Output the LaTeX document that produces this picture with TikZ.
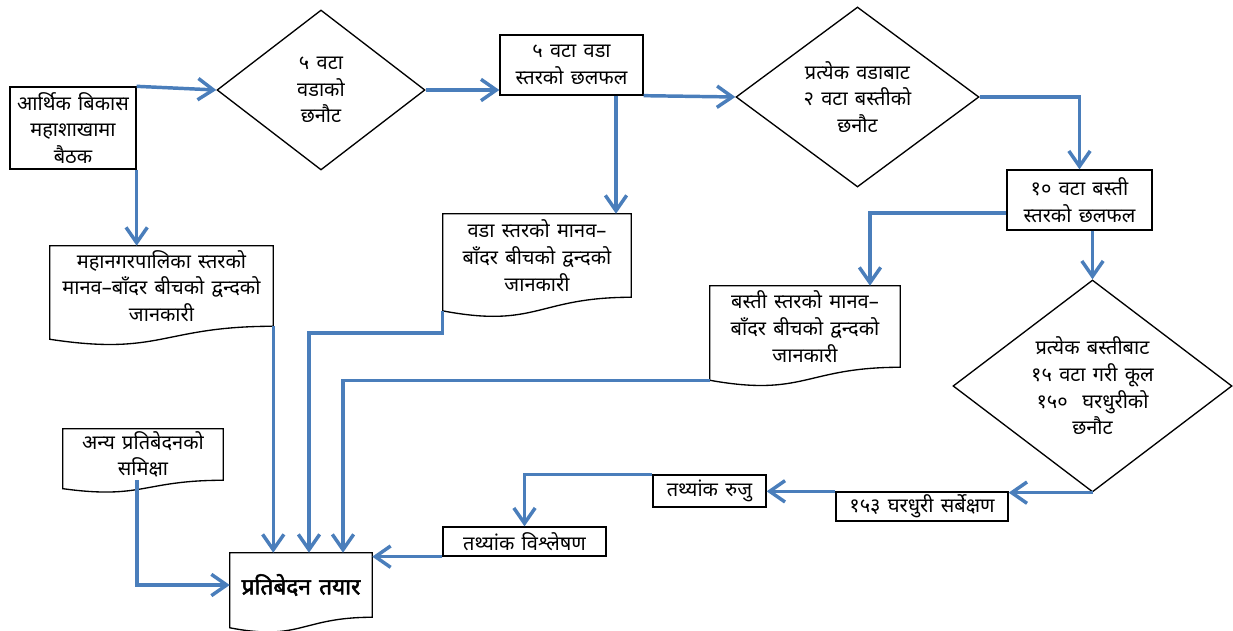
\documentclass[tikz,border=0pt]{standalone}
\usepackage{fontspec}
\setmainfont[Script=Devanagari, WordSpace=1.4]{Noto Sans}
\newfontfamily\devbold[Script=Devanagari, WordSpace=1.4, FakeBold=2.2]{Noto Sans}
\usetikzlibrary{shapes.geometric,arrows.meta,calc}
\definecolor{flowblue}{RGB}{74,126,187}
\tikzset{
  sz/.style 2 args={minimum width=#1*0.75pt, minimum height=#2*0.75pt},
  txt/.style={font=\fontsize{15}{20}\selectfont, align=center, inner sep=0pt},
  boxnode/.style={txt, rectangle, draw=black, line width=1pt},
  diamnode/.style={txt, diamond, draw=black, line width=1pt, inner sep=-12pt},
  docnode/.style={txt, rectangle, draw=none},
  outl/.style={draw=black, line width=1pt},
  conn/.style={draw=flowblue, line width=2.6pt, -{Straight Barb[length=11.5pt,width=16pt]}},
}
\newcommand\docwave[2]{%
  \draw[outl] (#1.north west) -- (#1.north east) -- (#1.south east)
    .. controls (#1.south) and ($(#1.south)+(0,2.31*#2)$) .. ($(#1.south west)+(0,#2)$) -- cycle;}
\begin{document}
\begin{tikzpicture}[x=0.75pt, y=-0.75pt]
\useasboundingbox (0,0) rectangle (1233,631);
% process boxes
\node[boxnode, sz={126}{82}] (b1) at (73,128) {आर्थिक बिकास\\महाशाखामा\\बैठक};
\node[boxnode, sz={143}{60}] (r2) at (571.5,65) {५ वटा वडा\\स्तरको छलफल};
\node[boxnode, sz={145}{60}] (r3) at (1079.5,200) {१० वटा बस्ती\\स्तरको छलफल};
\node[boxnode, sz={172}{29}] (r153) at (922,506.5) {१५३ घरधुरी सर्बेक्षण};
\node[boxnode, sz={113}{32}] (ruju) at (709.5,491) {तथ्यांक रुजु};
\node[boxnode, sz={163}{29}] (ana) at (524.5,541.5) {तथ्यांक विश्लेषण};
% decisions
\node[diamnode, sz={208}{160}, shape aspect=1.3] (d1) at (321,90) {५ वटा\\वडाको\\छनौट};
\node[diamnode, sz={243}{180}, shape aspect=1.35] (d2) at (857.5,97) {प्रत्येक वडाबाट\\२ वटा बस्तीको\\छनौट};
\node[diamnode, sz={279}{212}, shape aspect=1.32] (d3) at (1092.5,386) {प्रत्येक बस्तीबाट\\१५ वटा गरी कूल\\१५०\ \ घरधुरीको\\छनौट};
% documents
\node[docnode, sz={223}{80}] (docA) at (161.5,286) {महानगरपालिका स्तरको\\मानव–बाँदर बीचको द्वन्दको\\जानकारी};
\node[docnode, sz={188}{83}] (docB) at (537,255.5) {वडा स्तरको मानव–\\बाँदर बीचको द्वन्दको\\जानकारी};
\node[docnode, sz={190}{81}] (docC) at (805,326.5) {बस्ती स्तरको मानव–\\बाँदर बीचको द्वन्दको\\जानकारी};
\node[docnode, sz={160}{51}] (docD) at (143,454.5) {अन्य प्रतिबेदनको\\समिक्षा};
\node[docnode, sz={142}{64}, font=\fontsize{17}{20}\devbold] (docE) at (301,585) {प्रतिबेदन तयार};
\docwave{docA}{13}
\docwave{docB}{13.6}
\docwave{docC}{13}
\docwave{docD}{8.4}
\docwave{docE}{10.5}
% helper coordinates for connector columns
\coordinate (xB) at (616,0);
\coordinate (xC) at (870,0);
\coordinate (xD) at (137,0);
\coordinate (xE2) at (309,0);
\coordinate (xE3) at (343,0);
\coordinate (yB) at (0,333);
% connectors
\draw[conn] (b1.north east) -- (d1.west);
\draw[conn] (b1.south east) -- (b1.south east |- docA.north);
\draw[conn] (d1.east) -- (d1.east -| r2.west);
\draw[conn] (r2.south -| xB) -- (docB.north -| xB);
\draw[conn] (r2.south east) -- (d2.west);
\draw[conn] (d2.east) -| (r3.north);
\draw[conn] ($(r3.west)+(0,13)$) -| (docC.north -| xC);
\draw[conn] (r3.south -| d3.north) -- (d3.north);
\draw[conn] (d3.south) -- (d3.south -| r153.east);
\draw[conn] (r153.north west) -- (r153.north west -| ruju.east);
\draw[conn] (ruju.north west) -| (ana.north);
\draw[conn] (ana.south west) -- (ana.south west -| docE.east);
\draw[conn] (docD.south -| xD) |- (docE.west);
\draw[conn] (docA.south east) -- (docA.south east |- docE.north);
\draw[conn] ($(docB.south west)+(0,13.6)$) -- (docB.south west |- yB) -| (docE.north -| xE2);
\draw[conn] ($(docC.south west)+(0,13)$) -| (docE.north -| xE3);
\end{tikzpicture}
\end{document}
